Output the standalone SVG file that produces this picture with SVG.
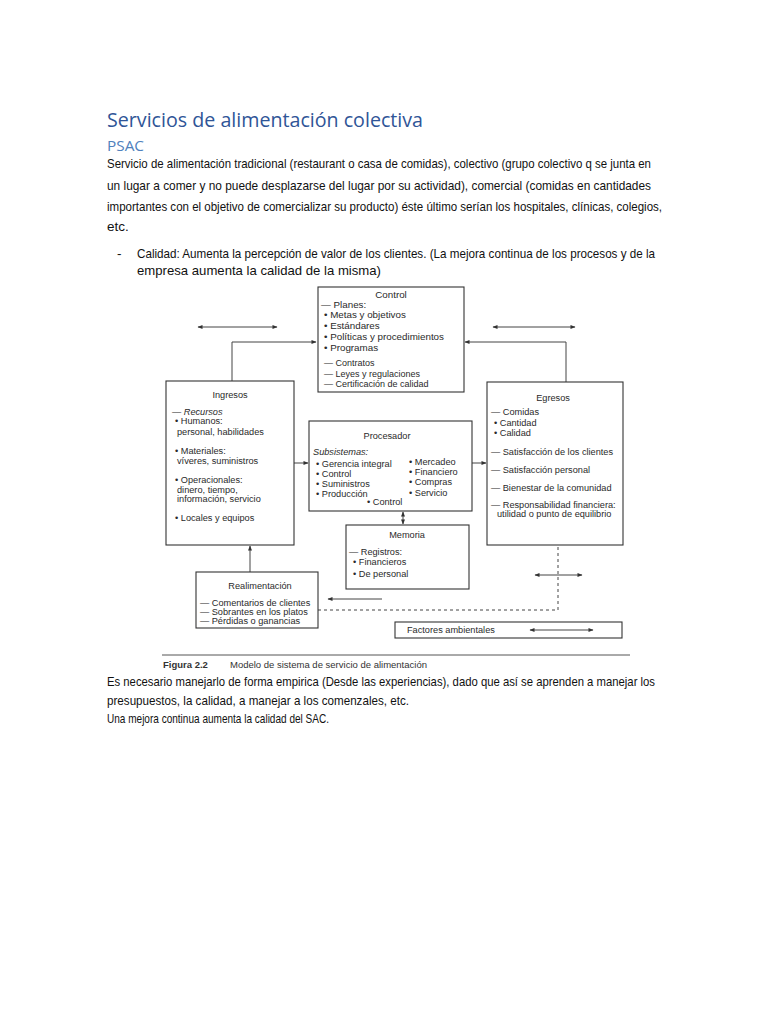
<svg xmlns="http://www.w3.org/2000/svg" width="768" height="1024" viewBox="0 0 768 1024">
<defs>
<marker id="ah" viewBox="0 0 10 10" refX="9" refY="5" markerWidth="6" markerHeight="5" orient="auto-start-reverse" markerUnits="userSpaceOnUse">
<path d="M0,1 L10,5 L0,9 z" fill="#333"/>
</marker>
<style>
.title{font-family:"Open Sans","Noto Sans",sans-serif;font-size:20px;fill:#2f5597}
.sub{font-family:"Open Sans","Noto Sans",sans-serif;font-size:14px;fill:#4f81bd}
.body{font-family:"Liberation Sans",Arial,sans-serif;font-size:13.5px;fill:#111}
.d{font-family:"Liberation Sans",Arial,sans-serif;font-size:9.2px;fill:#2a2a2a}
.dc{font-family:"Liberation Sans",Arial,sans-serif;font-size:9.2px;fill:#2a2a2a;text-anchor:middle}
.dk{font-family:"Liberation Sans",Arial,sans-serif;font-size:9.8px;fill:#2a2a2a}
.ds{font-family:"Liberation Sans",Arial,sans-serif;font-size:9px;fill:#2a2a2a}
.cap{font-family:"Liberation Sans",Arial,sans-serif;font-size:9.5px;fill:#333}
.box{fill:#fff;stroke:#333;stroke-width:1.1}
.ln{fill:none;stroke:#444;stroke-width:1}
.dash{fill:none;stroke:#444;stroke-width:1;stroke-dasharray:3,3}
</style>
</defs>
<rect width="768" height="1024" fill="#fff"/>

<text class="title" x="107" y="127" textLength="316" lengthAdjust="spacingAndGlyphs">Servicios de alimentación colectiva</text>
<text class="sub" x="107" y="151" textLength="37" lengthAdjust="spacingAndGlyphs">PSAC</text>
<text class="body" x="107" y="168" textLength="544" lengthAdjust="spacingAndGlyphs">Servicio de alimentación tradicional (restaurant o casa de comidas), colectivo (grupo colectivo q se junta en</text>
<text class="body" x="107" y="190" textLength="544" lengthAdjust="spacingAndGlyphs">un lugar a comer y no puede desplazarse del lugar por su actividad), comercial (comidas en cantidades</text>
<text class="body" x="107" y="211" textLength="555" lengthAdjust="spacingAndGlyphs">importantes con el objetivo de comercializar su producto) éste último serían los hospitales, clínicas, colegios,</text>
<text class="body" x="107" y="231">etc.</text>
<text class="body" x="117" y="258">-</text>
<text class="body" x="137" y="258" textLength="518" lengthAdjust="spacingAndGlyphs">Calidad: Aumenta la percepción de valor de los clientes. (La mejora continua de los procesos y de la</text>
<text class="body" x="137" y="275" textLength="244" lengthAdjust="spacingAndGlyphs">empresa aumenta la calidad de la misma)</text>

<g id="connectors">
<line class="ln" x1="198" y1="327" x2="277" y2="327" marker-start="url(#ah)" marker-end="url(#ah)"/>
<line class="ln" x1="493" y1="327" x2="575" y2="327" marker-start="url(#ah)" marker-end="url(#ah)"/>
<polyline class="ln" points="232,381 232,342 316,342" marker-end="url(#ah)"/>
<polyline class="ln" points="566,382 566,342 465,342" marker-end="url(#ah)"/>
<line class="ln" x1="294" y1="463" x2="308" y2="463" marker-end="url(#ah)"/>
<line class="ln" x1="472" y1="463" x2="486" y2="463" marker-end="url(#ah)"/>
<line class="ln" x1="403" y1="512" x2="403" y2="524" marker-start="url(#ah)" marker-end="url(#ah)"/>
<line class="ln" x1="250" y1="572" x2="250" y2="546" marker-end="url(#ah)"/>
<line class="ln" x1="382" y1="599" x2="328" y2="599" marker-end="url(#ah)"/>
<polyline class="dash" points="318,610 558,610 558,546"/>
<line class="ln" x1="535" y1="575" x2="582" y2="575" marker-start="url(#ah)" marker-end="url(#ah)"/>
</g>

<g id="control">
<rect class="box" x="318" y="287" width="146" height="105"/>
<text class="dk" x="391" y="298" text-anchor="middle">Control</text>
<text class="dk" x="321" y="308">— Planes:</text>
<text class="dk" x="324" y="318">• Metas y objetivos</text>
<text class="dk" x="324" y="329">• Estándares</text>
<text class="dk" x="324" y="340">• Políticas y procedimientos</text>
<text class="dk" x="324" y="351">• Programas</text>
<text class="ds" x="324" y="366">— Contratos</text>
<text class="ds" x="324" y="376.5">— Leyes y regulaciones</text>
<text class="ds" x="324" y="387">— Certificación de calidad</text>
</g>

<g id="ingresos">
<rect class="box" x="166" y="381" width="128" height="164"/>
<text class="dc" x="230" y="398">Ingresos</text>
<text class="d" x="172" y="415" font-style="italic">— Recursos</text>
<text class="d" x="175" y="424">• Humanos:</text>
<text class="d" x="177" y="435">personal, habilidades</text>
<text class="d" x="175" y="454">• Materiales:</text>
<text class="d" x="177" y="464">víveres, suministros</text>
<text class="d" x="175" y="483">• Operacionales:</text>
<text class="d" x="177" y="493">dinero, tiempo,</text>
<text class="d" x="177" y="502">información, servicio</text>
<text class="d" x="175" y="521">• Locales y equipos</text>
</g>

<g id="procesador">
<rect class="box" x="309" y="421" width="163" height="90"/>
<text class="dc" x="387" y="439">Procesador</text>
<text class="d" x="313" y="455" font-style="italic">Subsistemas:</text>
<text class="d" x="316" y="467">• Gerencia integral</text>
<text class="d" x="316" y="477">• Control</text>
<text class="d" x="316" y="487">• Suministros</text>
<text class="d" x="316" y="497">• Producción</text>
<text class="d" x="367" y="505">• Control</text>
<text class="d" x="409" y="465">• Mercadeo</text>
<text class="d" x="409" y="475">• Financiero</text>
<text class="d" x="409" y="485">• Compras</text>
<text class="d" x="409" y="496">• Servicio</text>
</g>

<g id="egresos">
<rect class="box" x="487" y="382" width="136" height="163"/>
<text class="dc" x="553" y="401">Egresos</text>
<text class="d" x="491" y="415">— Comidas</text>
<text class="d" x="494" y="426">• Cantidad</text>
<text class="d" x="494" y="436">• Calidad</text>
<text class="d" x="491" y="455">— Satisfacción de los clientes</text>
<text class="d" x="491" y="473">— Satisfacción personal</text>
<text class="d" x="491" y="491">— Bienestar de la comunidad</text>
<text class="d" x="491" y="508">— Responsabilidad financiera:</text>
<text class="d" x="497" y="517">utilidad o punto de equilibrio</text>
</g>

<g id="memoria">
<rect class="box" x="346" y="525" width="123" height="64"/>
<text class="dc" x="407" y="538">Memoria</text>
<text class="d" x="349" y="555">— Registros:</text>
<text class="d" x="353" y="565">• Financieros</text>
<text class="d" x="353" y="577">• De personal</text>
</g>

<g id="realimentacion">
<rect class="box" x="196" y="572" width="122" height="56"/>
<text class="dc" x="260" y="589">Realimentación</text>
<text class="d" x="200" y="606">— Comentarios de clientes</text>
<text class="d" x="200" y="615">— Sobrantes en los platos</text>
<text class="d" x="200" y="624">— Pérdidas o ganancias</text>
</g>

<g id="factores">
<rect class="box" x="395" y="622" width="227" height="16"/>
<text class="d" x="407" y="633">Factores ambientales</text>
<line class="ln" x1="530" y1="630" x2="593" y2="630" marker-start="url(#ah)" marker-end="url(#ah)"/>
</g>

<line x1="162" y1="655" x2="630" y2="655" stroke="#555" stroke-width="1"/>
<text class="cap" x="163" y="668"><tspan font-weight="bold">Figura 2.2</tspan><tspan x="230">Modelo de sistema de servicio de alimentación</tspan></text>

<text class="body" x="107" y="686" textLength="548" lengthAdjust="spacingAndGlyphs">Es necesario manejarlo de forma empirica (Desde las experiencias), dado que así se aprenden a manejar los</text>
<text class="body" x="107" y="705" textLength="302" lengthAdjust="spacingAndGlyphs">presupuestos, la calidad, a manejar a los comenzales, etc.</text>
<text class="body" x="107" y="723" textLength="222" lengthAdjust="spacingAndGlyphs">Una mejora continua aumenta la calidad del SAC.</text>
</svg>
